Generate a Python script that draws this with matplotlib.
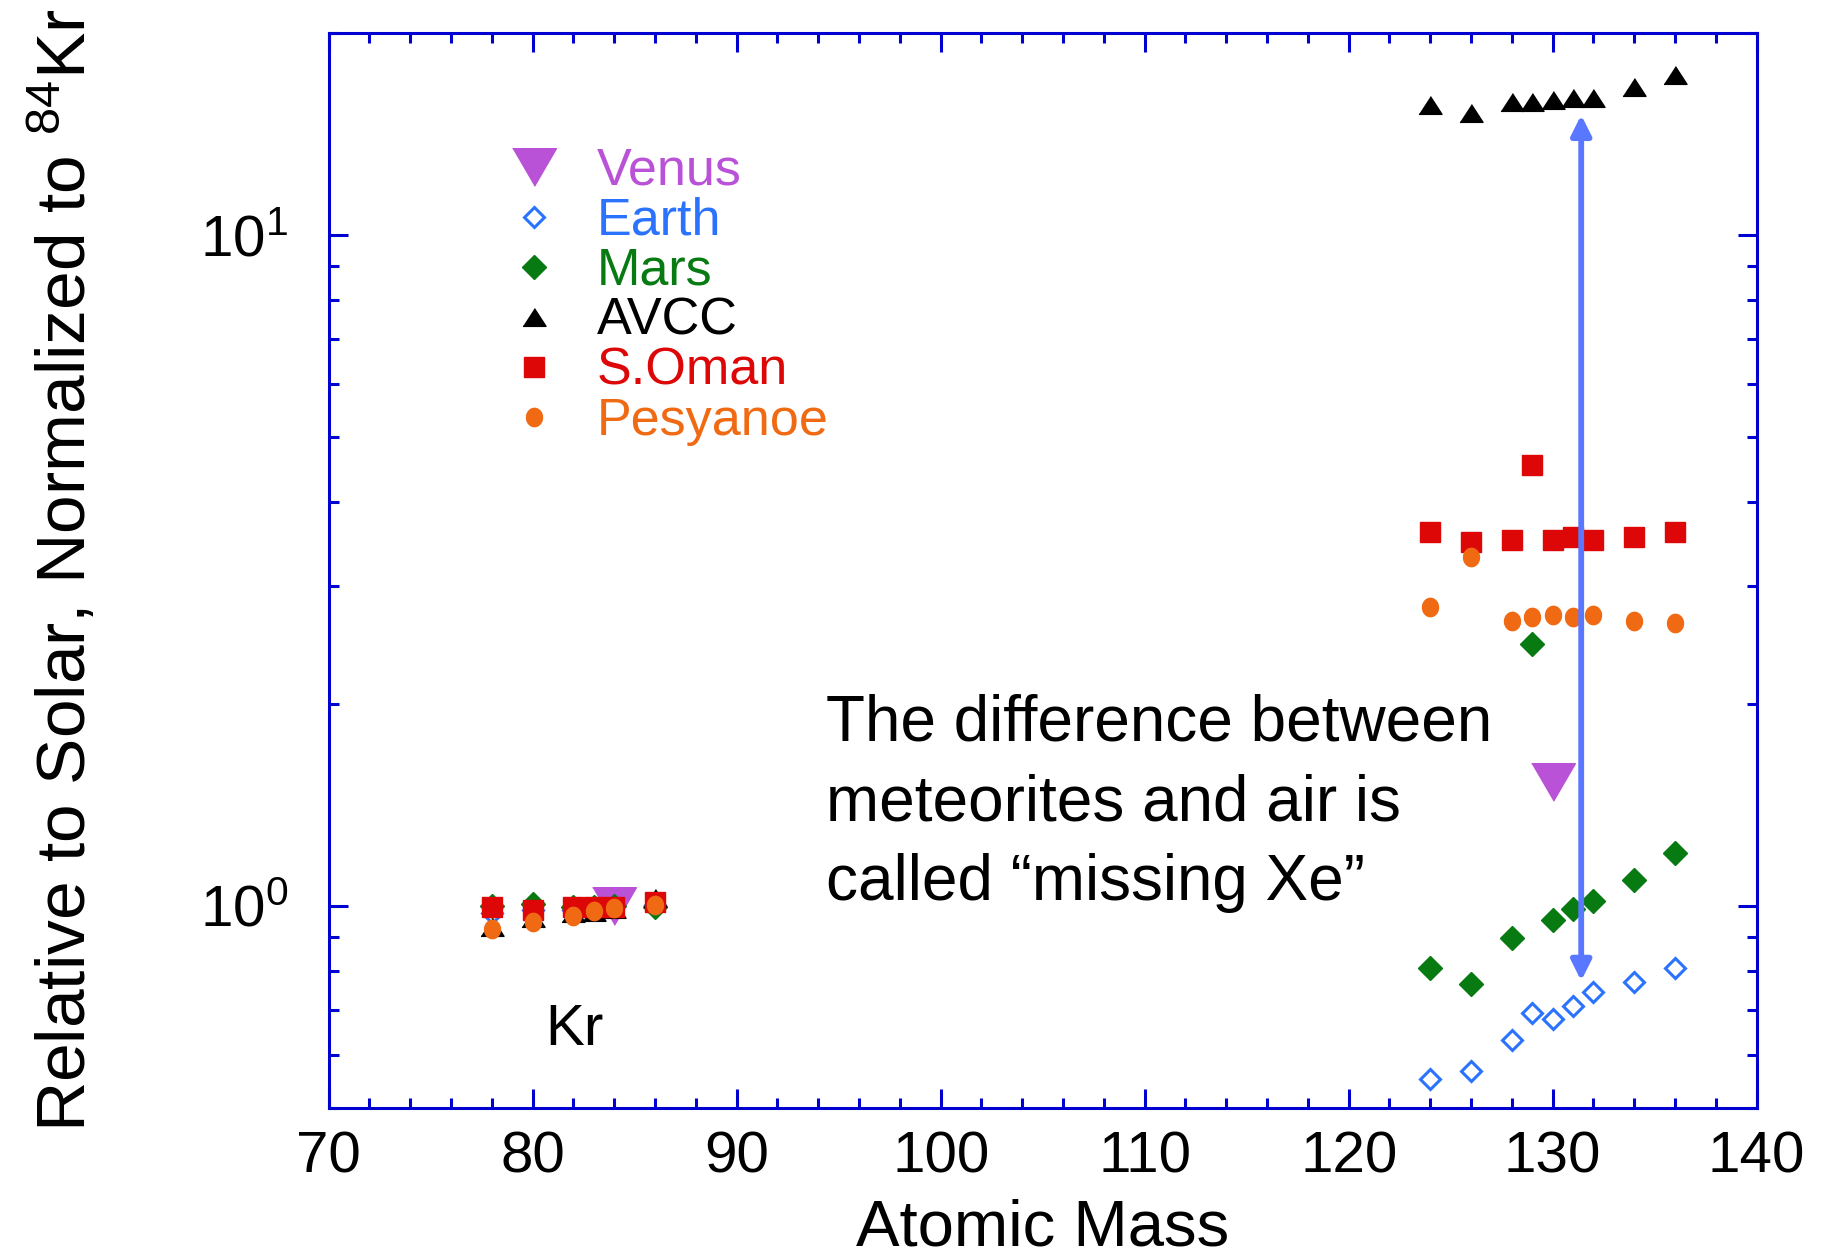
import numpy as np
import matplotlib
matplotlib.use('Agg')
import matplotlib.pyplot as plt
from matplotlib.ticker import MultipleLocator, NullFormatter, LogLocator

plt.rcParams['font.family'] = ['Liberation Sans', 'DejaVu Sans']
plt.rcParams['mathtext.default'] = 'regular'

# isotope masses
kr_mass = [78, 80, 82, 83, 84, 86]
xe_mass = [124, 126, 128, 129, 130, 131, 132, 134, 136]

# relative to solar, normalized to 84Kr
venus_mass = [84, 130]
venus = [1.00, 1.53]

earth_kr = [0.975, 0.986, 0.986, 0.990, 1.000, 1.003]
earth_xe = [0.552, 0.567, 0.632, 0.692, 0.679, 0.710, 0.745, 0.771, 0.807]
mars_kr = [1.000, 1.007, 0.997, 0.997, 1.000, 0.995]
mars_xe = [0.809, 0.765, 0.894, 2.46, 0.953, 0.988, 1.016, 1.093, 1.198]
avcc_kr = [0.931, 0.959, 0.976, 0.980, 0.990, 1.026]
avcc_xe = [15.6, 15.2, 15.76, 15.76, 15.89, 16.0, 16.0, 16.6, 17.3]
oman_kr = [0.995, 0.986, 0.997, 0.997, 0.995, 1.014]
oman_xe = [3.61, 3.48, 3.51, 4.54, 3.51, 3.54, 3.51, 3.54, 3.61]
pesy_kr = [0.923, 0.947, 0.966, 0.984, 0.992, 1.003]
pesy_xe = [2.79, 3.31, 2.66, 2.69, 2.71, 2.69, 2.71, 2.66, 2.64]

# arrow spanning AVCC -> air
arrow_x = 131.4
arrow_top = 15.09
arrow_bottom = 0.773

venus_c = '#BA52D8'
earth_c = '#2B73FF'
mars_c = '#077A12'
avcc_c = 'black'
oman_c = '#DD0707'
pesy_c = '#F06A14'
spine_c = '#0000D0'
arrow_c = '#5A78FF'

# marker shapes (wider triangles, tall ellipse like the original)
tri_up = [(-1, -0.77), (1, -0.77), (0, 0.77)]
tri_down = [(-1, 0.86), (1, 0.86), (0, -0.86)]
t = np.linspace(0, 2 * np.pi, 60)
ellipse = list(zip(0.87 * np.cos(t), np.sin(t)))

fig = plt.figure(figsize=(18.4, 12.59), dpi=100)
ax = fig.add_axes([0.1786, 0.1201, 0.7761, 0.8538])

ax.plot(venus_mass, venus, ls='none', marker=tri_down, ms=31.5, color=venus_c,
        mec=venus_c, label='Venus')
ax.plot(kr_mass + xe_mass, earth_kr + earth_xe, ls='none', marker='D', ms=10.5,
        mfc='white', mec=earth_c, mew=2.2, label='Earth')
ax.plot(kr_mass + xe_mass, mars_kr + mars_xe, ls='none', marker='D', ms=11.9,
        color=mars_c, mec=mars_c, label='Mars')
ax.plot(kr_mass + xe_mass, avcc_kr + avcc_xe, ls='none', marker=tri_up, ms=16.6,
        color=avcc_c, label='AVCC')
ax.plot(kr_mass + xe_mass, oman_kr + oman_xe, ls='none', marker='s', ms=14.2,
        color=oman_c, label='S.Oman')
ax.plot(kr_mass + xe_mass, pesy_kr + pesy_xe, ls='none', marker=ellipse, ms=13.2,
        color=pesy_c, mec=pesy_c, label='Pesyanoe')

ax.annotate('', xy=(arrow_x, arrow_bottom), xytext=(arrow_x, arrow_top),
            arrowprops=dict(arrowstyle='<|-|>,head_length=0.6,head_width=0.3',
                            color=arrow_c, lw=4.2, mutation_scale=20,
                            shrinkA=0, shrinkB=0))

ax.text(94.4, 2.07, 'The difference between\nmeteorites and air is\ncalled \u201cmissing Xe\u201d',
        fontsize=46, va='top', ha='left', linespacing=1.42)
ax.text(80.6, 0.621, 'Kr', fontsize=42, va='baseline', ha='left')

ax.set_xlim(70, 140)
ax.set_yscale('log')
ax.set_ylim(0.5, 20)
ax.set_xticks(range(70, 141, 10))
ax.xaxis.set_minor_locator(MultipleLocator(2))
ax.yaxis.set_minor_locator(LogLocator(base=10, subs=np.arange(2, 10)))
ax.yaxis.set_minor_formatter(NullFormatter())

for s in ax.spines.values():
    s.set_color(spine_c)
    s.set_linewidth(2.2)
ax.tick_params(which='both', direction='in', top=True, right=True,
               color=spine_c, width=2.2, labelsize=42)
ax.tick_params(which='major', length=14)
ax.tick_params(which='minor', length=7)
ax.tick_params(axis='x', pad=16)
ax.tick_params(axis='y', pad=29)

ax.set_xlabel('Atomic Mass', fontsize=47)
ax.set_ylabel('Relative to Solar, Normalized to $^{84}$Kr', fontsize=50)
ax.xaxis.set_label_coords(0.5, -0.084)
ax.yaxis.set_label_coords(-0.160, 0.5)

ax.legend(loc='upper left', bbox_to_anchor=(0.1074, 0.8940), frameon=False,
          fontsize=37.5, labelspacing=0.02, handlelength=2, handletextpad=0.2,
          borderpad=0, borderaxespad=0, numpoints=1,
          labelcolor=[venus_c, earth_c, mars_c, avcc_c, oman_c, pesy_c])

fig.savefig('out.png', dpi=100)
